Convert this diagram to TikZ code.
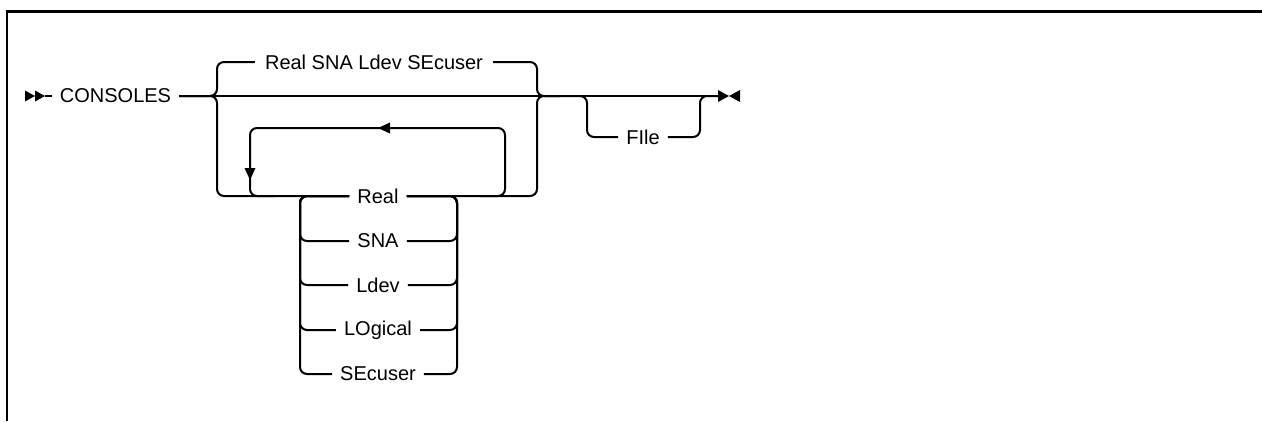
\documentclass[tikz,border=0pt]{standalone}
\usepackage{fontspec}
\setmainfont{Liberation Sans}
\begin{document}
\begin{tikzpicture}[x=1pt,y=-1pt,
  rail/.style={line width=2pt, rounded corners=7pt},
  lbl/.style={font=\fontsize{20}{23}\selectfont, inner xsep=8pt, inner ysep=0pt, anchor=center},
  tip/.style={fill=black}]
\useasboundingbox (0,0) rectangle (1262,421);
% frame
\draw[line width=2.5pt] (1262,11.5) -- (7,11.5) -- (7,421);

% coordinates
\coordinate (start) at (45,96);
\coordinate (endp) at (718,96);

% nodes
\node[lbl] (consoles) at (115.5,96) {CONSOLES};
\node[lbl, inner xsep=10pt] (dflt) at (374,62) {Real SNA Ldev SEcuser};
\node[lbl] (real) at (378,196) {Real};
\node[lbl] (sna) at (378,241) {SNA};
\node[lbl] (ldev) at (378,285) {Ldev};
\node[lbl] (logical) at (378,330) {LOgical};
\node[lbl] (secuser) at (378,374) {SEcuser};
\node[lbl] (file) at (643,137) {FIle};

% start / end markers
\fill[tip] (25,90.5) -- (35,96) -- (25,101.5) -- cycle;
\fill[tip] (35,90.5) -- (45,96) -- (35,101.5) -- cycle;
\fill[tip] (718,90) -- (729,96) -- (718,102) -- cycle;
\fill[tip] (740,90) -- (729,96) -- (740,102) -- cycle;

% main line
\draw[rail] (start) -- (consoles.west);
\draw[rail] (consoles.east) -- (endp);

% outer choice: default above
\draw[rail] (consoles.east) -| (217,62) -- (dflt.west);
\draw[rail] (dflt.east) -| (537,96) -- (560,96);
% outer choice: repeat group below
\draw[rail] (consoles.east) -| (217,196) -- (real.west);
\draw[rail] (real.east) -| (537,96) -- (560,96);

% repeat loop
\draw[rail] (480,196) -| (505,128) -| (250,196) -- (275,196);
\fill[tip] (378,128) -- (390,122.5) -- (390,133.5) -- cycle;
\fill[tip] (250,180) -- (244.5,168) -- (255.5,168) -- cycle;

% inner choice
\foreach \n in {sna,ldev,logical,secuser}{
  \draw[rail] (real.west) -| (300,0 |- \n.west) -- (\n.west);
  \draw[rail] (\n.east) -| (457,196) -- (real.east);
}

% optional FIle
\draw[rail] (560,96) -| (587,137) -- (file.west);
\draw[rail] (file.east) -| (700,96) -- (endp);
\end{tikzpicture}
\end{document}
